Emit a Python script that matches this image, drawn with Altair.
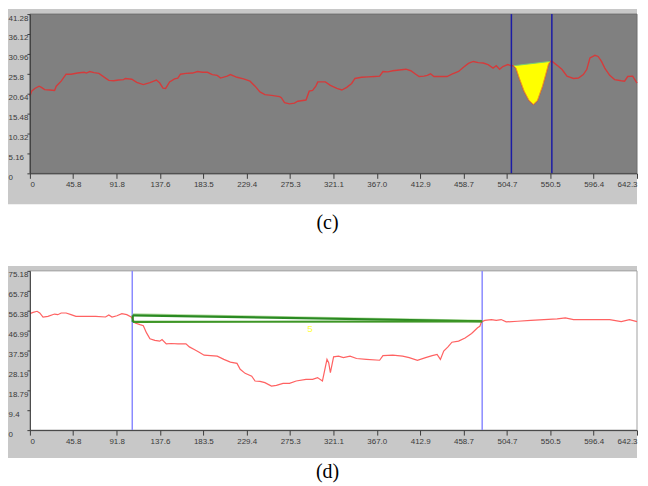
import altair as alt
import pandas as pd

# ---------------- data ----------------
X_MAX = 642.3
X_TICKS = [0, 45.8, 91.8, 137.6, 183.5, 229.4, 275.3, 321.1, 367.0, 412.9,
           458.7, 504.7, 550.5, 596.4, 642.3]
C_Y_TICKS = [0, 5.16, 10.32, 15.48, 20.64, 25.8, 30.96, 36.12, 41.28]
D_Y_TICKS = [0, 9.4, 18.79, 28.19, 37.59, 46.99, 56.38, 65.78, 75.18]

c_x = [0, 1.8, 5.2, 9.7, 12.2, 15.6, 20.9, 26.1, 27.9, 33.1, 38.3, 43.5, 50.4, 57.4, 59.8,
       63.3, 67.8, 73.0, 80.0, 83.5, 88.7, 93.9, 99.1, 100.9, 107.8, 113.0, 120.0, 127.0,
       133.8, 137.4, 140.8, 143.6, 147.8, 153.0, 156.5, 159.3, 165.1, 172.1, 177.3, 182.6,
       187.8, 193.0, 198.2, 201.7, 208.7, 212.1, 219.1, 226.1, 232.9, 238.2, 243.4, 248.6,
       255.6, 264.2, 266.0, 269.4, 274.7, 279.9, 283.4, 292.1, 295.5, 299.1, 302.5, 304.6,
       312.6, 317.9, 324.8, 330.0, 335.2, 340.4, 343.9, 350.8, 357.8, 364.8, 370.0, 373.5,
       378.7, 383.9, 390.9, 397.8, 403.0, 408.2, 411.8, 417.0, 420.4, 423.9, 427.4, 434.3,
       441.3, 446.5, 453.5, 458.7, 463.9, 469.1, 474.3, 479.6, 484.8, 490.0, 493.4, 496.9,
       500.4, 505.6, 509.1, 511.9, 514.3, 517.8, 523.0, 528.2, 532.7, 536.9, 542.2, 545.6,
       548.4, 550.1, 552.6, 557.8, 563.0, 568.2, 575.1, 580.3, 585.5, 589.1, 592.5, 597.8,
       601.2, 604.7, 608.2, 613.4, 618.6, 625.6, 629.1, 632.5, 637.7, 642.3]
c_y = [20.0, 21.3, 22.0, 22.6, 22.3, 21.7, 21.6, 21.5, 22.6, 23.9, 25.7, 25.7, 26.0, 26.2, 26.0,
       26.4, 26.1, 25.9, 24.7, 24.1, 24.0, 24.2, 24.3, 24.6, 24.4, 23.6, 23.0, 23.5,
       24.2, 23.4, 22.1, 22.0, 23.7, 24.5, 24.7, 25.7, 25.9, 26.0, 26.4, 26.2,
       26.2, 25.6, 25.4, 24.7, 25.2, 25.6, 24.9, 24.5, 23.9, 22.6, 21.1, 20.4,
       20.2, 19.9, 19.6, 18.3, 18.0, 18.2, 18.7, 19.0, 21.3, 21.5, 22.6, 23.7,
       23.7, 22.8, 22.0, 21.6, 22.3, 23.3, 24.6, 24.9, 25.0, 25.1, 25.2, 26.4,
       26.3, 26.6, 26.8, 27.0, 26.6, 25.7, 25.1, 25.2, 25.4, 25.8, 25.1, 25.1,
       25.1, 25.7, 26.4, 27.5, 28.5, 29.0, 28.7, 28.6, 28.2, 27.3, 27.9, 27.0,
       27.7, 28.2, 27.9, 27.9, 27.3, 24.7, 21.3, 18.9, 17.9, 18.9, 22.6, 25.6,
       28.2, 29.0, 29.0, 28.0, 26.9, 25.2, 24.6, 24.7, 25.6, 26.9, 29.9, 30.6,
       30.3, 29.0, 27.3, 25.4, 24.3, 24.0, 23.9, 25.1, 25.2, 23.4]
C_MARKERS = [509.4, 552.2]
C_CHORD_X = [511.9, 550.1]
C_CHORD_Y = [27.9, 29.0]

d_x = [0, 3.4, 7.6, 10.4, 13.9, 19.1, 26.1, 29.5, 33.1, 38.3, 43.5, 48.7, 59.1, 69.6, 80.0,
       83.5, 86.9, 92.1, 97.3, 102.5, 107.1, 111.3, 116.5, 120.0, 123.4, 127.0, 132.2,
       137.4, 139.8, 144.3, 149.5, 156.5, 165.1, 168.7, 173.9, 179.1, 184.3, 191.2, 198.2,
       205.2, 212.1, 219.1, 222.5, 227.7, 234.7, 238.2, 243.4, 248.6, 255.6, 260.8, 267.8,
       274.7, 281.7, 292.1, 299.1, 304.3, 309.5, 314.3, 316.1, 317.9, 321.3, 326.5, 331.7,
       338.7, 345.6, 356.0, 370.0, 373.5, 383.9, 394.3, 401.3, 410.0, 418.6, 425.6, 430.8,
       434.3, 437.8, 442.3, 446.5, 453.5, 460.4, 467.3, 473.6, 476.0, 477.8, 481.2, 488.2,
       493.4, 498.6, 503.9, 516.1, 529.9, 543.8, 557.8, 566.5, 575.1, 589.1, 599.5, 613.4,
       625.6, 634.3, 642.3]
d_y = [55.0, 55.6, 56.1, 55.3, 53.4, 53.7, 54.8, 54.5, 55.3, 55.3, 54.5, 53.7, 53.7, 53.7, 53.4,
       54.4, 53.4, 54.0, 55.0, 54.5, 53.4, 50.6, 49.8, 49.3, 45.9, 43.1, 42.4,
       42.0, 42.8, 40.7, 40.9, 40.7, 40.7, 39.3, 38.1, 36.8, 35.4, 35.2, 34.9,
       33.4, 32.1, 31.5, 28.7, 26.8, 25.5, 23.2, 23.0, 22.4, 20.8, 21.1, 22.1,
       22.1, 23.2, 24.0, 24.0, 24.8, 23.2, 33.4, 31.8, 27.1, 34.6, 34.9, 34.2,
       34.9, 33.8, 33.4, 33.0, 35.2, 35.4, 34.9, 34.2, 32.9, 34.2, 35.2, 35.7,
       33.4, 37.3, 39.3, 41.5, 42.0, 43.5, 45.6, 48.3, 49.0, 51.1, 51.8, 52.2,
       51.8, 52.2, 51.1, 51.4, 51.8, 52.2, 52.5, 53.0, 52.2, 52.2, 52.2, 52.2,
       51.2, 52.2, 51.2]
D_MARKERS = [108.3, 478.5]
D_LIGHT_X = [108.8, 478.5]
D_LIGHT_Y = [54.8, 51.8]
D_GREEN_SEG = ["upper", "upper", "lower", "lower", "left", "left"]
D_GREEN_X = [108.8, 478.5, 108.8, 478.5, 108.8, 108.8]
D_GREEN_Y = [54.2, 51.4, 51.1, 51.3, 51.1, 54.2]
D_NOTE = ["5"]
D_NOTE_X = [296.3]
D_NOTE_Y = [47.5]
CAPTIONS = ["(c)", "(d)"]

# ---------------- layout ----------------
W, H = 610, 160

xscale = alt.Scale(domain=[0, X_MAX], nice=False, zero=False)


def x_axis():
    return alt.Axis(values=X_TICKS, title=None, grid=False,
                    labelExpr="datum.value == 0 ? '0' : format(datum.value, '.1f')",
                    tickSize=5, tickColor="#3c3c3c", domainColor="#3c3c3c",
                    labelFont="Liberation Sans", labelFontSize=8, labelColor="#3a3a3a",
                    labelPadding=2, labelFlush=True, zindex=1)


def y_axis(vals):
    return alt.Axis(values=vals, title=None, grid=False,
                    labelExpr="'' + datum.value",
                    tickSize=3, tickColor="#3c3c3c", domainColor="#3c3c3c",
                    labelFont="Liberation Sans", labelFontSize=8, labelColor="#3a3a3a",
                    labelAlign="left", labelBaseline="top", labelPadding=19,
                    labelOverlap=False, zindex=1)


one = pd.DataFrame({"k": [0]})


def frame(bottom):
    return alt.Chart(one).mark_rect(color="#c8c8c8").encode(
        x=alt.value(-22), x2=alt.value(W), y=alt.value(-5), y2=alt.value(bottom))


def plotbg(fill, stroke):
    return alt.Chart(one).mark_rect(fill=fill, stroke=stroke, strokeWidth=1).encode(
        x=alt.value(0), x2=alt.value(W), y=alt.value(0), y2=alt.value(H))


def caption(text, ypos):
    return alt.Chart(pd.DataFrame({"t": [text]})).mark_text(
        font="Liberation Serif", fontSize=20, color="black", align="center",
        baseline="middle").encode(x=alt.value(299), y=alt.value(ypos), text="t:N")


# ---- panel (c) ----
cdf = pd.DataFrame({"x": c_x[:len(c_y)], "y": c_y[:len(c_x)]})
cy = alt.Scale(domain=[0, C_Y_TICKS[-1]], nice=False, zero=False)
fill_df = cdf[(cdf.x >= C_CHORD_X[0]) & (cdf.x <= C_CHORD_X[1])]

c_line = alt.Chart(cdf).mark_line(color="#d43b3b", strokeWidth=1.4).encode(
    x=alt.X("x:Q", scale=xscale, axis=x_axis()),
    y=alt.Y("y:Q", scale=cy, axis=y_axis(C_Y_TICKS)))
c_fill = alt.Chart(fill_df).mark_line(fill="#ffff00", stroke="#e8a020",
                                      strokeWidth=1).encode(
    x=alt.X("x:Q", scale=xscale, axis=x_axis()),
    y=alt.Y("y:Q", scale=cy, axis=y_axis(C_Y_TICKS)))
c_chord = alt.Chart(pd.DataFrame({"x": C_CHORD_X, "y": C_CHORD_Y})).mark_line(
    color="#7ad070", strokeWidth=1).encode(
    x=alt.X("x:Q", scale=xscale, axis=x_axis()),
    y=alt.Y("y:Q", scale=cy, axis=y_axis(C_Y_TICKS)))
c_rules = alt.Chart(pd.DataFrame({"x": C_MARKERS})).mark_rule(
    color="#1c1ca6", strokeWidth=1.5).encode(
    x=alt.X("x:Q", scale=xscale, axis=x_axis()))

top = alt.layer(frame(191), plotbg("#808080", "#6e6e6e"), c_line, c_fill, c_chord,
                c_rules, caption(CAPTIONS[0], 210)).properties(width=W, height=H)

# ---- panel (d) ----
ddf = pd.DataFrame({"x": d_x[:len(d_y)], "y": d_y[:len(d_x)]})
dy = alt.Scale(domain=[0, D_Y_TICKS[-1]], nice=False, zero=False)
gdf = pd.DataFrame({"seg": D_GREEN_SEG, "x": D_GREEN_X, "y": D_GREEN_Y,
                    "o": list(range(len(D_GREEN_X)))})

d_line = alt.Chart(ddf).mark_line(color="#ff6262", strokeWidth=1.2).encode(
    x=alt.X("x:Q", scale=xscale, axis=x_axis()),
    y=alt.Y("y:Q", scale=dy, axis=y_axis(D_Y_TICKS)))
d_rules = alt.Chart(pd.DataFrame({"x": D_MARKERS})).mark_rule(
    color="#8a8aff", strokeWidth=1.5).encode(
    x=alt.X("x:Q", scale=xscale, axis=x_axis()))
d_light = alt.Chart(pd.DataFrame({"x": D_LIGHT_X, "y": D_LIGHT_Y})).mark_line(
    color="#b4dca0", strokeWidth=1.5).encode(
    x=alt.X("x:Q", scale=xscale, axis=x_axis()),
    y=alt.Y("y:Q", scale=dy, axis=y_axis(D_Y_TICKS)))
d_green = alt.Chart(gdf).mark_line(strokeWidth=2.2).encode(
    x=alt.X("x:Q", scale=xscale, axis=x_axis()),
    y=alt.Y("y:Q", scale=dy, axis=y_axis(D_Y_TICKS)),
    detail="seg:N", order="o:Q",
    color=alt.Color("seg:N", legend=None,
                    scale=alt.Scale(domain=["upper", "lower", "left"],
                                    range=["#2a8a22", "#3e9626", "#2a8a22"])))
d_note = alt.Chart(pd.DataFrame({"t": D_NOTE, "x": D_NOTE_X, "y": D_NOTE_Y})).mark_text(
    color="#ffff40", fontSize=10, font="Liberation Sans").encode(
    x=alt.X("x:Q", scale=xscale, axis=x_axis()),
    y=alt.Y("y:Q", scale=dy, axis=y_axis(D_Y_TICKS)), text="t:N")

bottom = alt.layer(frame(188), plotbg("#ffffff", "#a0a0a0"), d_rules, d_line, d_light,
                   d_green, d_note, caption(CAPTIONS[1], 202)).properties(width=W, height=H)

chart = alt.vconcat(top, bottom, spacing=98, bounds="flush").properties(
    padding=0, background="white").configure_view(stroke=None)

chart.save("out.html", embed_options={"renderer": "svg", "actions": False})
